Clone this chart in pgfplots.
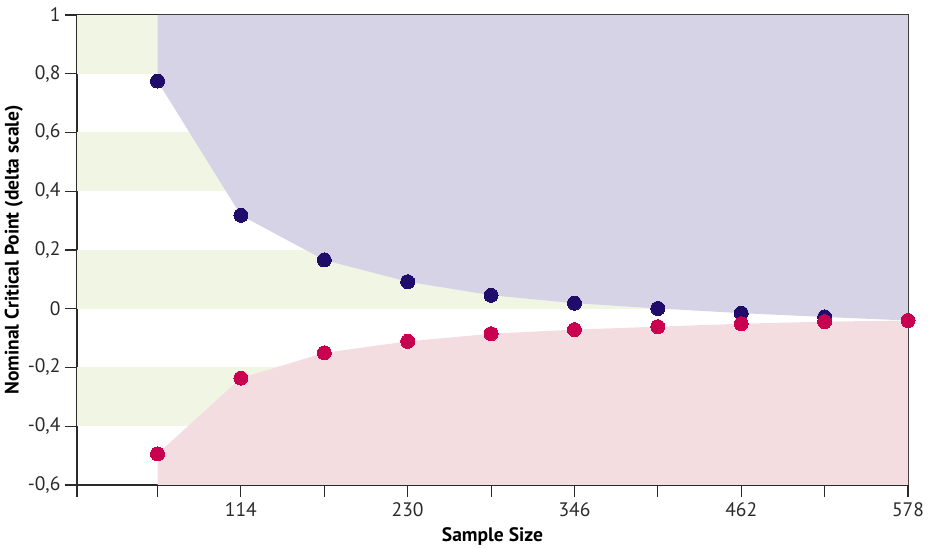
\documentclass[border=0pt]{standalone}
\usepackage{pgfplots}
\pgfplotsset{compat=1.18}
\usepackage{fontspec}
\setmainfont{PT Sans}
\definecolor{bandgreen}{HTML}{F1F6E4}
\definecolor{purplefill}{HTML}{D7D3E6}
\definecolor{redfill}{HTML}{F4DDE0}
\definecolor{bluedot}{HTML}{1F0C6B}
\definecolor{reddot}{HTML}{C8004F}
\definecolor{axgray}{HTML}{2A2A2A}
\begin{document}
\begin{tikzpicture}
\begin{axis}[
  scale only axis, width=831pt, height=470pt,
  xmin=0, xmax=578, ymin=-0.6, ymax=1,
  clip=false,
  axis line style={axgray, line width=1.1pt},
  tick style={axgray, line width=1.1pt},
  tick align=outside, major tick length=12pt,
  xtick={0,56,114,172,230,288,346,404,462,520,578},
  xticklabels={,,114,,230,,346,,462,,578},
  ytick={-0.6,-0.4,-0.2,0,0.2,0.4,0.6,0.8,1},
  yticklabels={{-0,6},{-0,4},{-0,2},0,{0,2},{0,4},{0,6},{0,8},1},
  xtick pos=bottom, ytick pos=left,
  ticklabel style={font=\fontsize{19.5}{22}\selectfont, text=axgray},
  xticklabel style={yshift=-2pt},
  yticklabel style={xshift=-1pt},
  xlabel={\textbf{Sample Size}},
  ylabel={\textbf{Nominal Critical Point (delta scale)}},
  label style={font=\fontsize{19.5}{22}\selectfont},
  xlabel style={yshift=-4pt},
  ylabel style={yshift=-2pt},
]
% background bands
\addplot[fill=bandgreen, draw=none] coordinates {(0,0.8)(578,0.8)(578,1)(0,1)} -- cycle;
\addplot[fill=bandgreen, draw=none] coordinates {(0,0.4)(578,0.4)(578,0.6)(0,0.6)} -- cycle;
\addplot[fill=bandgreen, draw=none] coordinates {(0,0)(578,0)(578,0.2)(0,0.2)} -- cycle;
\addplot[fill=bandgreen, draw=none] coordinates {(0,-0.4)(578,-0.4)(578,-0.2)(0,-0.2)} -- cycle;
% upper area
\addplot[fill=purplefill, draw=none] coordinates {
 (56,1)(56,0.775)(114,0.318)(172,0.166)(230,0.092)(288,0.046)(346,0.019)(404,0.001)(462,-0.015)(520,-0.028)(578,-0.04)(578,1)} -- cycle;
% lower area
\addplot[fill=redfill, draw=none] coordinates {
 (56,-0.6)(56,-0.494)(114,-0.236)(172,-0.150)(230,-0.111)(288,-0.085)(346,-0.071)(404,-0.061)(462,-0.051)(520,-0.044)(578,-0.04)(578,-0.6)} -- cycle;
% points
\addplot[bluedot, only marks, mark=*, mark size=7pt, mark options={draw=bluedot, fill=bluedot, line width=0pt}] coordinates {
 (56,0.775)(114,0.318)(172,0.166)(230,0.092)(288,0.046)(346,0.019)(404,0.001)(462,-0.015)(520,-0.028)(578,-0.04)};
\addplot[reddot, only marks, mark=*, mark size=7pt, mark options={draw=reddot, fill=reddot, line width=0pt}] coordinates {
 (56,-0.494)(114,-0.236)(172,-0.150)(230,-0.111)(288,-0.085)(346,-0.071)(404,-0.061)(462,-0.051)(520,-0.044)(578,-0.04)};
\end{axis}
\path ([shift={(-77pt,-63pt)}]current axis.south west) rectangle ([shift={(24pt,15pt)}]current axis.north east);
\end{tikzpicture}
\end{document}
